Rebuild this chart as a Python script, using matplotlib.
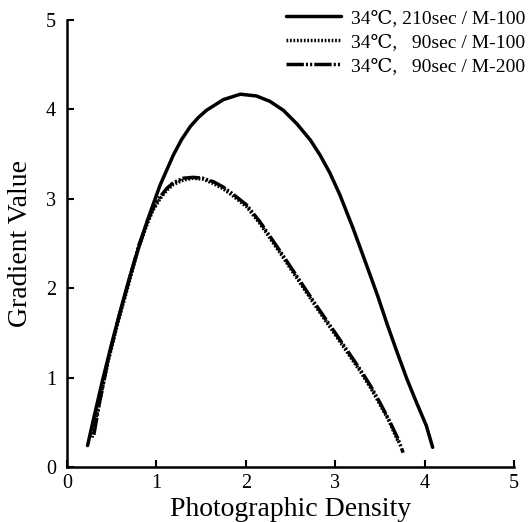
import matplotlib
matplotlib.use("Agg")
import matplotlib.pyplot as plt

# ---- data ----
x_210_m100 = [0.23, 0.30, 0.40, 0.50, 0.60, 0.70, 0.80, 0.90, 1.04, 1.19, 1.28, 1.38, 1.47,
              1.56, 1.75, 1.94, 2.12, 2.27, 2.42, 2.57, 2.72, 2.83, 2.94, 3.05, 3.20, 3.35,
              3.48, 3.58, 3.69, 3.80, 3.91, 4.02, 4.09]
y_210_m100 = [0.24, 0.55, 0.98, 1.38, 1.76, 2.12, 2.45, 2.76, 3.15, 3.49, 3.66, 3.81, 3.91,
              3.99, 4.11, 4.17, 4.15, 4.09, 3.99, 3.84, 3.66, 3.49, 3.29, 3.05, 2.67, 2.26,
              1.90, 1.60, 1.29, 0.99, 0.72, 0.46, 0.22]

x_90_m100 = [0.28, 0.35, 0.46, 0.57, 0.69, 0.80, 0.89, 0.96, 1.04, 1.12, 1.19, 1.30, 1.41,
             1.52, 1.64, 1.75, 1.86, 2.01, 2.16, 2.38, 2.60, 2.80, 3.00, 3.13, 3.28, 3.40,
             3.50, 3.60, 3.71]
y_90_m100 = [0.33, 0.67, 1.18, 1.62, 2.05, 2.45, 2.70, 2.87, 3.00, 3.10, 3.16, 3.21, 3.23,
             3.22, 3.17, 3.11, 3.03, 2.91, 2.72, 2.40, 2.07, 1.77, 1.48, 1.29, 1.07, 0.88,
             0.70, 0.52, 0.27]

x_90_m200 = [0.30, 0.36, 0.46, 0.57, 0.69, 0.80, 0.89, 0.96, 1.04, 1.12, 1.19, 1.30, 1.41,
             1.52, 1.64, 1.75, 1.86, 2.01, 2.16, 2.38, 2.60, 2.80, 3.00, 3.13, 3.28, 3.40,
             3.50, 3.60, 3.70, 3.76]
y_90_m200 = [0.36, 0.70, 1.20, 1.64, 2.07, 2.47, 2.72, 2.89, 3.02, 3.12, 3.18, 3.23, 3.24,
             3.23, 3.19, 3.13, 3.05, 2.93, 2.74, 2.42, 2.09, 1.79, 1.50, 1.31, 1.09, 0.90,
             0.72, 0.53, 0.32, 0.16]

labels = ["34\u2103, 210sec / M-100",
          "34\u2103,   90sec / M-100",
          "34\u2103,   90sec / M-200"]
xticks = [0, 1, 2, 3, 4, 5]
yticks = [0, 1, 2, 3, 4, 5]
xlabel = "Photographic Density"
ylabel = "Gradient Value"

fam = ["Liberation Serif", "DejaVu Serif", "DejaVu Sans"]
plt.rcParams["font.family"] = fam

fig = plt.figure(figsize=(5.28, 5.22), dpi=100)
ax = fig.add_axes([67 / 528, 55 / 522, 447 / 528, 447 / 522])

lw = 2.5
ax.plot(x_210_m100, y_210_m100, color="black", lw=lw, solid_capstyle="round",
        solid_joinstyle="round", label=labels[0])
ax.plot(x_90_m100, y_90_m100, color="black", lw=lw, linestyle=(0, (0.5, 0.5)),
        label=labels[1])
ax.plot(x_90_m200, y_90_m200, color="black", lw=lw,
        linestyle=(0, (5, 0.6, 0.6, 0.6, 0.6, 0.6)), label=labels[2])

ax.set_xlim(0, 5)
ax.set_ylim(0, 5)
ax.set_xticks(xticks)
ax.set_yticks(yticks)
ax.set_xticklabels([str(t) for t in xticks])
ax.set_yticklabels([str(t) for t in yticks])

for s in ["top", "right"]:
    ax.spines[s].set_visible(False)
for s in ["left", "bottom"]:
    ax.spines[s].set_linewidth(1.8)

ax.tick_params(axis="both", direction="in", length=5, width=1.5, labelsize=14.5)
ax.tick_params(axis="x", pad=5)
ax.tick_params(axis="y", pad=8)

ax.set_xlabel(xlabel, fontsize=20, labelpad=3)
ax.set_ylabel(ylabel, fontsize=20, labelpad=9)

leg = ax.legend(loc="upper right", bbox_to_anchor=(1.0, 0.988),
                bbox_transform=fig.transFigure, frameon=False, fontsize=14,
                handlelength=2.85, handletextpad=0.5, labelspacing=0.33,
                borderaxespad=0.05, borderpad=0.1)

fig.savefig("out.png", dpi=100)
